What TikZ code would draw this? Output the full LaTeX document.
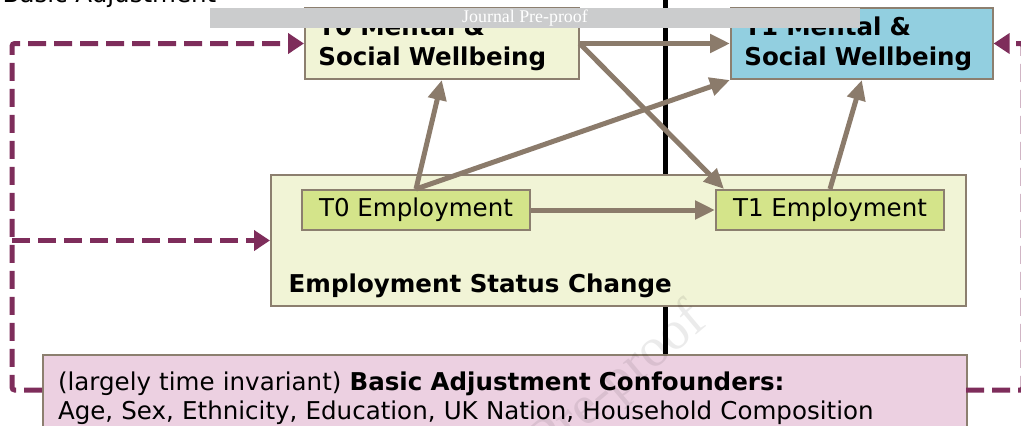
\documentclass[tikz,border=0pt]{standalone}
\usepackage{fontspec}
\setmainfont{DejaVu Sans}
\newfontfamily\barfont{Liberation Serif}
\usetikzlibrary{arrows.meta}

\definecolor{wbcream}{HTML}{F1F4D6}
\definecolor{wbblue}{HTML}{92CFE0}
\definecolor{empgreen}{HTML}{D4E48A}
\definecolor{confpink}{HTML}{ECD0E1}
\definecolor{boxline}{HTML}{8C7F6F}
\definecolor{arrowbrown}{HTML}{8B7B6B}
\definecolor{adjpurple}{HTML}{7E2D5B}
\definecolor{bargray}{HTML}{CBCCCD}

\tikzset{
  wellbeing/.style={draw=boxline, line width=1.5pt, anchor=north west,
    minimum height=53.25pt, inner xsep=10pt, align=left,
    font=\fontsize{18.4}{22.5}\selectfont\bfseries},
  empbox/.style={draw=boxline, line width=1.5pt, fill=empgreen,
    minimum width=171pt, minimum height=30pt,
    font=\fontsize{18.4}{22}\selectfont},
  causal/.style={draw=arrowbrown, line width=3.75pt,
    -{Triangle[length=15pt,width=13.5pt]}},
  adjline/.style={draw=adjpurple, line width=3.75pt,
    dash pattern=on 13.5pt off 6pt, rounded corners=2pt,
    -{Triangle[length=12pt,width=15pt]}}
}

\begin{document}
\begin{tikzpicture}[x=0.75pt, y=-0.75pt]
  \useasboundingbox (0,0) rectangle (1021,425);
  \clip (0,0) rectangle (1021,425);

  \node [anchor=base west, font=\fontsize{18.4}{22}\selectfont] (title) at (-2,2) {Basic Adjustment};

  % time divider
  \draw [line width=3.75pt] (665,0) -- (665,354);

  % outcome boxes
  \node [wellbeing, fill=wbcream, text width=185.25pt] (t0wb) at (304,7)
    {T0 Mental \&\\Social Wellbeing};
  \node [wellbeing, fill=wbblue, text width=176.25pt] (t1wb) at (730,7)
    {T1 Mental \&\\Social Wellbeing};

  % employment change
  \node [draw=boxline, line width=1.5pt, fill=wbcream, anchor=north west,
    minimum width=521.25pt, minimum height=98.25pt] (esc) at (270,174) {};
  \node [anchor=base west, font=\fontsize{18.4}{22}\selectfont\bfseries] (esclabel) at (284,292)
    {Employment Status Change};
  \node [empbox] (t0emp) at (416,210) {T0 Employment};
  \node [empbox] (t1emp) at (830,210) {T1 Employment};

  % confounders
  \node [draw=boxline, line width=1.5pt, fill=confpink, anchor=north west,
    minimum height=64.5pt, inner xsep=11.25pt, text width=670.5pt, align=left,
    font=\fontsize{18.4}{21.5}\selectfont] (conf) at (42,354)
    {(largely time invariant) \textbf{Basic Adjustment Confounders:}\\
     Age, Sex, Ethnicity, Education, UK Nation, Household Composition};
  \coordinate (confl) at (42,390);
  \coordinate (confr) at (966,390);

  \draw [causal] (t0wb.east) -- (t1wb.west);
  \draw [causal] (t0wb.east) -- (724,189);
  \draw [causal] (t0emp.north) -- (t0wb.south);
  \draw [causal] (t0emp.north) -- (t1wb.south west);
  \draw [causal] (t1emp.north) -- (t1wb.south);
  \draw [causal] (t0emp.east) -- (t1emp.west);

  \draw [adjline] (confl) -- (12,390) -- (12,0 |- t0wb.west) -- (t0wb.west);
  \draw [adjline] (12,0 |- esc.west) -- (esc.west);
  \draw [adjline] (confr) -- (1023,390) -- (1023,0 |- t1wb.east) -- (t1wb.east);

  % pre-proof stamp
  \node [fill=bargray, anchor=north west, minimum width=487.5pt, minimum height=15pt,
    inner sep=0pt] (bar) at (210,8) {};
  \node [text=white, font=\barfont\fontsize{13.4}{15}\selectfont] (barlabel) at (525,18)
    {Journal Pre-proof};
  \node [rotate=40, text=black, opacity=0.08, anchor=base east,
    font=\barfont\fontsize{41}{45}\selectfont] (stamp) at (712,322) {Journal Pre-proof};
\end{tikzpicture}
\end{document}
